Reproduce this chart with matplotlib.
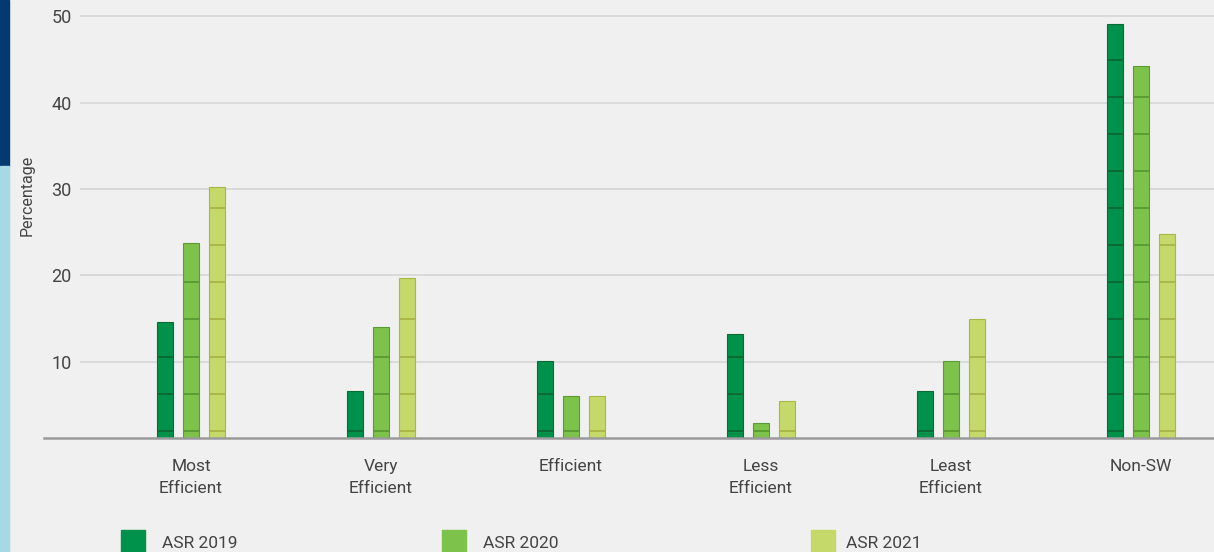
import matplotlib
matplotlib.use("Agg")
import matplotlib.pyplot as plt
import numpy as np
from matplotlib.patches import Rectangle
from matplotlib.lines import Line2D

plt.rcParams["font.family"] = ["Roboto", "DejaVu Sans"]

categories = ["Most\nEfficient", "Very\nEfficient", "Efficient", "Less\nEfficient", "Least\nEfficient", "Non-SW"]
series = ["ASR 2019", "ASR 2020", "ASR 2021"]
asr_2019 = [14.6, 6.6, 10.1, 13.2, 6.6, 49.1]
asr_2020 = [23.8, 14.0, 6.0, 2.9, 10.1, 44.3]
asr_2021 = [30.2, 19.7, 6.0, 5.4, 14.9, 24.8]
yticks = [10, 20, 30, 40, 50]

COLORS = ["#00924a", "#7dc24a", "#c5d96a"]
EDGES = ["#0b6b35", "#5d9a33", "#a9b845"]
BG = "#f0f0f0"
INK = "#444444"
W, H = 1214, 552

fig = plt.figure(figsize=(W / 100, H / 100), dpi=100, facecolor=BG)

# left stripe
fig.patches.append(Rectangle((0, 1 - 166 / H), 9 / W, 166 / H, transform=fig.transFigure,
                             color="#003a70", zorder=0))
fig.patches.append(Rectangle((0, 0), 9 / W, 1 - 166 / H, transform=fig.transFigure,
                             color="#a5d9e6", zorder=0))

ax = fig.add_axes([80 / W, 1 - 438 / H, 1 - 80 / W, 438 / H])
ax.set_facecolor(BG)
ax.set_xlim(-0.584, 5.384)
ax.set_ylim(1.16, 51.9)

for y in yticks:
    ax.axhline(y, color="#d8d8d8", lw=1.3, zorder=0)

x = np.arange(len(categories))
width, step = 0.08, 0.137
for i, vals in enumerate([asr_2019, asr_2020, asr_2021]):
    xs = x + (i - 1) * step
    ax.bar(xs, vals, width=width, bottom=0, color=COLORS[i], edgecolor=EDGES[i],
           linewidth=0.8, zorder=2)
    # bamboo-like node marks along each bar
    for xc, v in zip(xs, vals):
        nodes = np.arange(2.0, v - 0.5, 4.3)
        ax.hlines(nodes, xc - width / 2, xc + width / 2, color=EDGES[i], lw=1.4, zorder=3)

ax.set_xticks(x)
ax.set_xticklabels(categories, fontsize=12.5, color=INK, linespacing=1.6)
ax.set_yticks(yticks)
ax.set_yticklabels([str(t) for t in yticks], fontsize=13, color=INK)
ax.tick_params(axis="both", length=0, pad=6)
ax.tick_params(axis="x", pad=15)
for s in ax.spines.values():
    s.set_visible(False)

# baseline
fig.add_artist(Line2D([44 / W, 1], [1 - 438 / H] * 2, transform=fig.transFigure,
                      color="#9a9a9a", lw=1.8))

fig.text(27 / W, 1 - 195 / H, "Percentage", rotation=90, ha="center", va="center",
         fontsize=11.5, color=INK)

# legend
for (sx, tx), label, c in zip([(121, 162), (442, 483), (811, 846)], series, COLORS):
    fig.patches.append(Rectangle((sx / W, 0), 24 / W, 22 / H, transform=fig.transFigure,
                                 color=c))
    fig.text(tx / W, 1 - 543 / H, label, ha="left", va="center", fontsize=12.5, color=INK)

fig.savefig("out.png", dpi=100, facecolor=BG)
